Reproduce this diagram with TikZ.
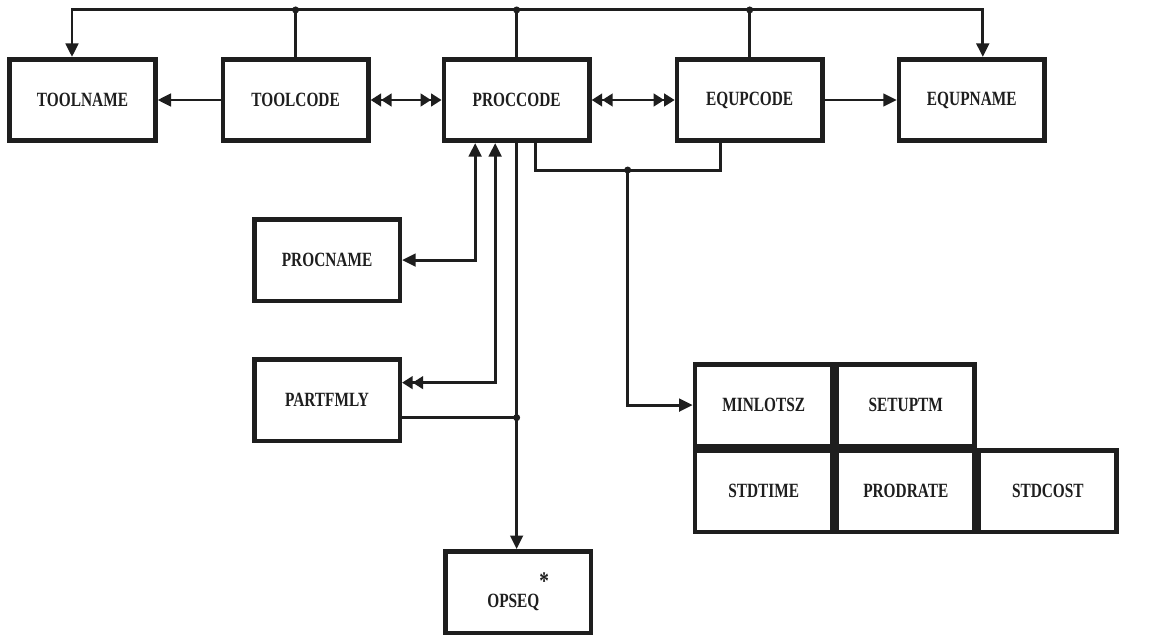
\documentclass[tikz,border=0pt]{standalone}
\usepackage{fontspec}
\setmainfont[FakeStretch=0.76]{Liberation Serif}
\usetikzlibrary{positioning, calc, arrows.meta}

\definecolor{ink}{HTML}{1E1E1E}

\begin{document}
\begin{tikzpicture}[
    box/.style = {draw=ink, line width=2.6pt, rectangle, minimum width=2.91cm,
      minimum height=1.63cm, font=\bfseries\fontsize{11.5}{13}\selectfont, text=ink},
    cell/.style = {box, minimum width=2.75cm, minimum height=1.63cm},
    tri/.tip = {Triangle[length=0.27cm, width=0.25cm]},
    twotri/.tip = {Triangle[length=0.21cm, width=0.25cm] Triangle[length=0.21cm, width=0.25cm]},
    >=tri,
    link/.style = {draw=ink, line width=1.7pt},
  ]

\useasboundingbox[fill=white] (0,0) rectangle (23.04,-12.7);

% upper row
\node[box] (toolname) at (1.65,-2.0) {TOOLNAME};
\node[box, right = 1.26cm of toolname] (toolcode) {TOOLCODE};
\node[box, right = 1.42cm of toolcode] (proccode) {PROCCODE};
\node[box, right = 1.66cm of proccode] (equpcode) {EQUPCODE};
\node[box, right = 1.44cm of equpcode] (equpname) {EQUPNAME};

% left column and bottom
\node[box, below = 1.48cm of toolcode, xshift=0.63cm] (procname) {PROCNAME};
\node[box, below = 1.08cm of procname] (partfmly) {PARTFMLY};
\node[box, below = 8.12cm of proccode, xshift=0.03cm] (opseq) {OPSEQ\raisebox{1.9ex}{\Large *}};

% attribute grid
\node[cell, below = 4.38cm of equpcode, xshift=0.28cm] (minlotsz) {MINLOTSZ};
\node[cell, right = 0pt of minlotsz] (setuptm) {SETUPTM};
\node[cell, below = 0pt of minlotsz] (stdtime) {STDTIME};
\node[cell, right = 0pt of stdtime] (prodrate) {PRODRATE};
\node[cell, right = 0pt of prodrate] (stdcost) {STDCOST};

% bus over the top
\draw[link, ->] (proccode.north) -- ++(0,0.94) -| ([xshift=-0.21cm]toolname.north);
\draw[link, ->] (proccode.north) -- ++(0,0.94) -| ([xshift=0.22cm]equpname.north);
\draw[link] (toolcode.north) -- ++(0,0.94) coordinate (tapa);
\draw[link] (equpcode.north) -- ++(0,0.94) coordinate (tapb);
\fill[ink] (tapa) circle (0.07);
\fill[ink] (tapb) circle (0.07);
\fill[ink] ([yshift=0.94cm]proccode.north) circle (0.07);

% top row links
\draw[link, ->] (toolcode) -- (toolname);
\draw[link, twotri-twotri] (toolcode) -- (proccode);
\draw[link, twotri-twotri] (proccode) -- (equpcode);
\draw[link, ->] (equpcode) -- (equpname);

% under proccode
\coordinate (pfin) at ([yshift=0.35cm]partfmly.east);
\coordinate (pfout) at ([yshift=-0.35cm]partfmly.east);
\coordinate (eqfoot) at ([xshift=-0.59cm]equpcode.south);
\draw[link, <->] (procname.east) -| ([xshift=-0.83cm]proccode.south);
\draw[link, twotri->] (pfin) -| ([xshift=-0.43cm]proccode.south);
\draw[link, ->] (proccode.south) -- (proccode.south |- opseq.north);
\draw[link] (pfout) -- (proccode.south |- pfout) coordinate (tapc);
\fill[ink] (tapc) circle (0.07);

\draw[link] ([xshift=0.37cm]proccode.south) -- ++(0,-0.54) coordinate (bend) -| (eqfoot);
\path (bend) -- (bend -| eqfoot) coordinate[midway] (tapd);
\fill[ink] (tapd) circle (0.07);
\draw[link, ->] (tapd) |- (minlotsz.west);

\end{tikzpicture}
\end{document}
